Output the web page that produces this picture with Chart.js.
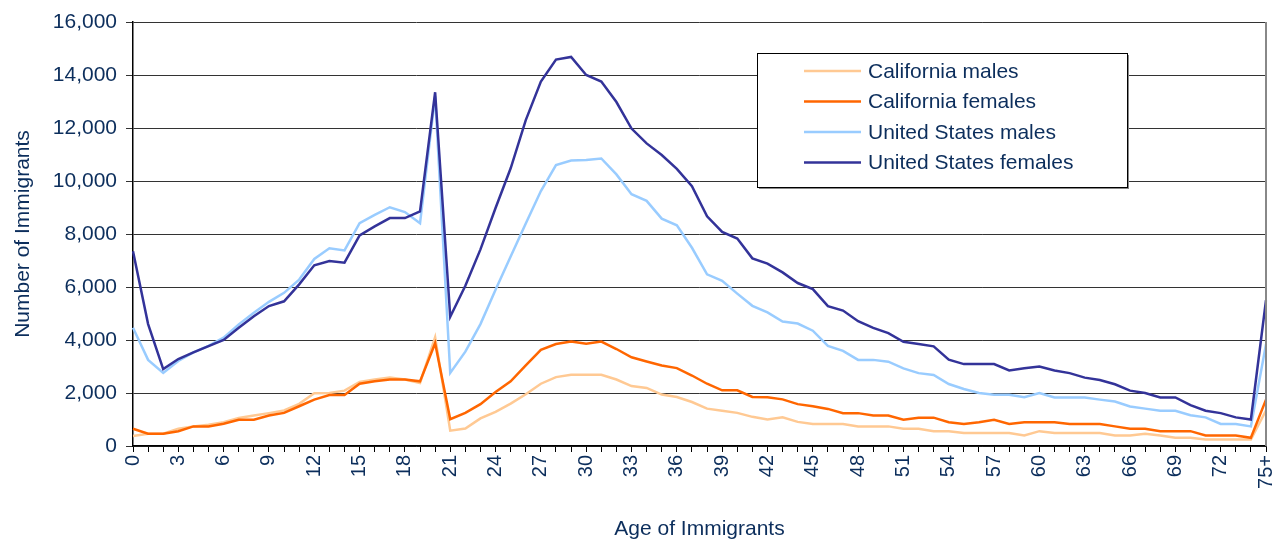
<!DOCTYPE html>
<html>
<head>
<meta charset="utf-8">
<script src="https://cdn.jsdelivr.net/npm/chart.js@4.4.1/dist/chart.umd.min.js"></script>
<style>
  body { margin: 0; background: #fff; }
  #wrap { width: 1284px; height: 544px; }
</style>
</head>
<body>
<div id="wrap"><canvas id="myChart" width="1284" height="544"></canvas></div>
<script>
// ages 0..74 plus the open-ended 75+ group
const ages = [];
for (let a = 0; a < 75; a++) ages.push(String(a));
ages.push("75+");

const seriesNames = ["California males", "California females", "United States males", "United States females"];

const caMales = [
  380, 460, 460, 650, 740, 800, 900, 1060, 1150, 1240,
  1340, 1590, 1990, 2000, 2090, 2420, 2510, 2580, 2510, 2380,
  4100, 580, 660, 1040, 1290, 1600, 1950, 2350, 2600, 2690,
  2690, 2690, 2510, 2260, 2190, 1940, 1850, 1660, 1410, 1330,
  1250, 1100, 1000, 1080, 910, 830, 830, 830, 740, 740,
  740, 650, 650, 560, 560, 490, 490, 490, 490, 400,
  560, 490, 490, 490, 490, 400, 400, 460, 400, 310,
  310, 250, 250, 250, 250, 1340
];
const caFemales = [
  650, 460, 460, 560, 740, 740, 840, 990, 990, 1150,
  1250, 1500, 1750, 1920, 1920, 2350, 2440, 2510, 2510, 2440,
  3880, 1010, 1250, 1580, 2040, 2440, 3040, 3630, 3850, 3940,
  3860, 3940, 3660, 3350, 3190, 3040, 2940, 2660, 2350, 2100,
  2100, 1850, 1840, 1760, 1580, 1500, 1400, 1240, 1240, 1150,
  1150, 990, 1070, 1070, 900, 830, 900, 990, 830, 900,
  900, 900, 830, 830, 830, 740, 650, 650, 560, 560,
  560, 400, 400, 400, 310, 1750
];
const usMales = [
  4460, 3250, 2760, 3210, 3530, 3780, 4090, 4590, 5030, 5440,
  5780, 6280, 7060, 7460, 7380, 8410, 8720, 9010, 8830, 8410,
  13200, 2760, 3560, 4600, 5900, 7150, 8400, 9620, 10600, 10770,
  10790, 10850, 10250, 9500, 9250, 8580, 8330, 7480, 6480, 6230,
  5750, 5290, 5040, 4700, 4620, 4350, 3780, 3590, 3250, 3250,
  3180, 2930, 2750, 2680, 2340, 2150, 2000, 1930, 1930, 1840,
  2000, 1830, 1830, 1830, 1750, 1680, 1490, 1410, 1330, 1330,
  1160, 1080, 830, 830, 740, 3840
];
const usFemales = [
  7350, 4600, 2900, 3280, 3530, 3770, 4000, 4460, 4900, 5280,
  5460, 6100, 6820, 6980, 6920, 7950, 8290, 8600, 8600, 8850,
  13350, 4880, 6050, 7420, 8980, 10480, 12300, 13750, 14580, 14680,
  14000, 13750, 12980, 11980, 11420, 10980, 10460, 9800, 8670, 8080,
  7830, 7080, 6880, 6550, 6150, 5920, 5280, 5110, 4710, 4460,
  4260, 3930, 3850, 3760, 3260, 3090, 3090, 3090, 2850, 2930,
  3000, 2850, 2750, 2580, 2490, 2330, 2090, 2000, 1830, 1830,
  1540, 1330, 1240, 1080, 1000, 5500
];

const colors = ["#FFC993", "#FF6600", "#99CCFF", "#333399"];
const textColor = "#0c2e5c";
const fontFamily = "'Liberation Sans', Arial, sans-serif";

// box legend drawn inside the plot, like the spreadsheet original
const boxLegend = {
  id: "boxLegend",
  afterDatasetsDraw: (chart) => {
    const { ctx, chartArea } = chart;
    const x = 757, y = 53, w = 370, h = 134;
    ctx.save();
    ctx.fillStyle = "#888";
    ctx.fillRect(x + 2, y + 2, w, h);
    ctx.fillStyle = "#fff";
    ctx.fillRect(x, y, w, h);
    ctx.strokeStyle = "#000";
    ctx.lineWidth = 1;
    ctx.strokeRect(x + 0.5, y + 0.5, w, h);
    ctx.font = "21px " + fontFamily;
    ctx.textBaseline = "middle";
    chart.data.datasets.forEach((ds, i) => {
      const ly = 71 + i * 30.5;
      ctx.strokeStyle = ds.borderColor;
      ctx.lineWidth = 2.5;
      ctx.beginPath();
      ctx.moveTo(804, ly);
      ctx.lineTo(861, ly);
      ctx.stroke();
      ctx.fillStyle = textColor;
      ctx.fillText(ds.label, 868, ly + 1);
    });
    // gray right edge of the plot area
    ctx.strokeStyle = "#888";
    ctx.lineWidth = 2;
    ctx.beginPath();
    ctx.moveTo(chartArea.right, chartArea.top);
    ctx.lineTo(chartArea.right, chartArea.bottom);
    ctx.stroke();
    ctx.restore();
  },
};

const seriesData = [caMales, caFemales, usMales, usFemales];
const datasets = seriesData.map((d, i) => ({
  label: seriesNames[i],
  data: d,
  borderColor: colors[i],
  backgroundColor: colors[i],
  borderWidth: 2.5,
  pointRadius: 0,
  tension: 0,
  order: 3 - i,
}));

const ctx = document.getElementById("myChart").getContext("2d");
new Chart(ctx, {
  type: "line",
  data: { labels: ages, datasets: datasets },
  options: {
    responsive: false,
    animation: false,
    layout: { padding: { left: 0, top: 22, right: 18, bottom: 0 } },
    plugins: {
      legend: { display: false },
      tooltip: { enabled: false },
    },
    scales: {
      x: {
        afterFit: (scale) => {
          scale.height = 98;
          scale.paddingLeft = 0;
          scale.paddingRight = 0;
        },
        grid: {
          display: true,
          drawOnChartArea: false,
          drawTicks: true,
          tickLength: 6,
          color: "#000",
        },
        border: { color: "#000", width: 1.5 },
        ticks: {
          autoSkip: false,
          minRotation: 90,
          maxRotation: 90,
          padding: 3,
          color: textColor,
          font: { family: fontFamily, size: 20 },
          callback: function (val, index) {
            return index % 3 === 0 ? this.getLabelForValue(val) : "";
          },
        },
        title: {
          display: true,
          text: "Age of Immigrants",
          color: textColor,
          font: { family: fontFamily, size: 21 },
          padding: { top: 0, bottom: 2 },
        },
      },
      y: {
        min: 0,
        max: 16000,
        afterFit: (scale) => { scale.width = 133; },
        grid: { color: "#333", tickLength: 7, lineWidth: 1 },
        border: { color: "#000", width: 1.5 },
        ticks: {
          stepSize: 2000,
          padding: 9,
          color: textColor,
          font: { family: fontFamily, size: 21 },
          callback: (v) => v.toLocaleString("en-US"),
        },
        title: {
          display: true,
          text: "Number of Immigrants",
          color: textColor,
          font: { family: fontFamily, size: 21 },
          padding: { top: 11, bottom: 0 },
        },
      },
    },
  },
  plugins: [boxLegend],
});
</script>
</body>
</html>
